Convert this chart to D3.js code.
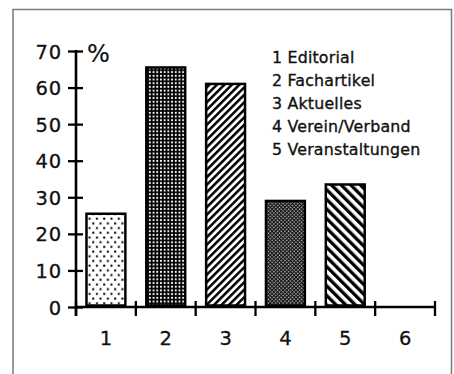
<!DOCTYPE html>
<html><head><meta charset="utf-8">
<script src="https://cdn.jsdelivr.net/npm/d3@7"></script>
<style>html,body{margin:0;padding:0;background:#fff;}svg{display:block;}</style>
</head><body>
<svg id="c" width="454" height="374"></svg>
<script>
const categories = [1, 2, 3, 4, 5, 6];
const values = [25.5, 65.5, 61, 29, 33.5];
const yTicks = [0, 10, 20, 30, 40, 50, 60, 70];
const legendLabels = ["1 Editorial", "2 Fachartikel", "3 Aktuelles", "4 Verein/Verband", "5 Veranstaltungen"];
const patternIds = ["p1", "p2", "p3", "p4", "p5"];

const svg = d3.select("#c");
const font = "'DejaVu Sans', sans-serif";

// frame
svg.append("path").attr("d", "M13,380 V9.5 H451.5 V380")
  .attr("fill", "none").attr("stroke", "#7a7a7a").attr("stroke-width", 1.5);

// patterns
const defs = svg.append("defs");
let p = defs.append("pattern").attr("id", "p1").attr("patternUnits", "userSpaceOnUse")
  .attr("width", 7.3).attr("height", 9.4);
p.append("rect").attr("width", 7.3).attr("height", 9.4).attr("fill", "#fff");
p.append("rect").attr("x", 1).attr("y", 1.5).attr("width", 2).attr("height", 2).attr("fill", "#000");
p.append("rect").attr("x", 4.65).attr("y", 6.2).attr("width", 2).attr("height", 2).attr("fill", "#000");

p = defs.append("pattern").attr("id", "p2").attr("patternUnits", "userSpaceOnUse")
  .attr("width", 3.7).attr("height", 3.7);
p.append("rect").attr("width", 3.7).attr("height", 3.7).attr("fill", "#000");
p.append("circle").attr("cx", 1.85).attr("cy", 1.85).attr("r", 1.05).attr("fill", "#fff");

p = defs.append("pattern").attr("id", "p3").attr("patternUnits", "userSpaceOnUse")
  .attr("width", 5.3).attr("height", 5.3).attr("patternTransform", "rotate(45)");
p.append("rect").attr("width", 5.3).attr("height", 5.3).attr("fill", "#fff");
p.append("rect").attr("width", 2.5).attr("height", 5.3).attr("fill", "#000");

p = defs.append("pattern").attr("id", "p4").attr("patternUnits", "userSpaceOnUse")
  .attr("width", 2.6).attr("height", 2.6).attr("patternTransform", "rotate(45)");
p.append("rect").attr("width", 2.6).attr("height", 2.6).attr("fill", "#111");
p.append("rect").attr("x", 0.4).attr("y", 0.4).attr("width", 1.2).attr("height", 1.2).attr("fill", "#fff");

p = defs.append("pattern").attr("id", "p5").attr("patternUnits", "userSpaceOnUse")
  .attr("width", 6.8).attr("height", 6.8).attr("patternTransform", "rotate(-45)");
p.append("rect").attr("width", 6.8).attr("height", 6.8).attr("fill", "#fff");
p.append("rect").attr("width", 3.3).attr("height", 6.8).attr("fill", "#000");

// scales
const x = d3.scaleBand().domain(categories).range([76, 435]).paddingInner(0.35).paddingOuter(0.175);
const y = d3.scaleLinear().domain([0, 70]).range([307, 51]);

// bars
svg.append("g").selectAll("rect").data(values).join("rect")
  .attr("x", (d, i) => x(categories[i]))
  .attr("y", d => y(d))
  .attr("width", x.bandwidth())
  .attr("height", d => y(0) - y(d) - 1.5)
  .attr("fill", (d, i) => `url(#${patternIds[i]})`)
  .attr("stroke", "#000").attr("stroke-width", 2.5);

const txt = sel => sel.attr("font-family", font).attr("fill", "#111")
  .attr("stroke", "#111").attr("stroke-width", 0.3);

// y axis
const yAxis = svg.append("g").attr("transform", `translate(${x.range()[0]},0)`)
  .call(d3.axisLeft(y).tickValues(yTicks).tickSize(0).tickPadding(14));
yAxis.select(".domain").remove();
yAxis.selectAll("text").call(txt).attr("font-size", 19.5)
  .attr("letter-spacing", 0.8).attr("dy", "0.36em");
yAxis.selectAll(".tick").append("line").attr("x1", -8).attr("x2", 7)
  .attr("stroke", "#000").attr("stroke-width", 2.3);
yAxis.append("line").attr("y1", y(70) - 1).attr("y2", y(0) + 9)
  .attr("stroke", "#000").attr("stroke-width", 2.6);

// x axis
const xAxis = svg.append("g").attr("transform", `translate(0,${y(0)})`)
  .call(d3.axisBottom(x).tickSize(0).tickPadding(24));
xAxis.select(".domain").remove();
xAxis.selectAll("text").call(txt).attr("font-size", 19.5);
xAxis.append("line").attr("x1", x.range()[0]).attr("x2", x.range()[1])
  .attr("stroke", "#000").attr("stroke-width", 2.6);
const bounds = d3.range(categories.length + 1).map(i => x.range()[0] + i * x.step());
xAxis.selectAll(".xt").data(bounds).join("line").attr("class", "xt")
  .attr("x1", d => d).attr("x2", d => d).attr("y1", -6).attr("y2", 9)
  .attr("stroke", "#000").attr("stroke-width", 2.3);

// unit
svg.append("text").attr("x", 87).attr("y", 62).call(txt)
  .attr("font-size", 24).attr("stroke-width", 0.2).text("%");

// legend
svg.append("g").selectAll("text").data(legendLabels).join("text")
  .attr("x", 272).attr("y", (d, i) => 63 + i * 23)
  .call(txt).attr("font-size", 15.8).attr("stroke-width", 0.35)
  .attr("letter-spacing", 0.2)
  .text(d => d);
</script>
</body></html>
